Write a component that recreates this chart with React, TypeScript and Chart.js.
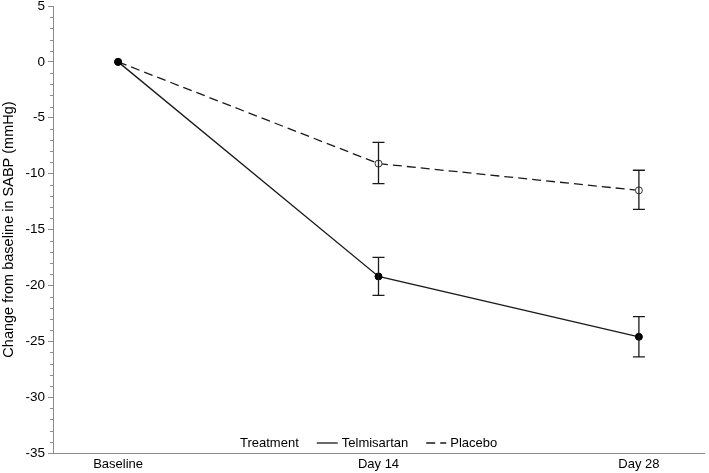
import React, { useEffect, useRef } from "react";
import { Chart, registerables } from "chart.js";

Chart.register(...registerables);

const categories = ["Baseline", "Day 14", "Day 28"];
const telmisartan = [0, -19.2, -24.6];
const telmisartanUpper = [0, -17.5, -22.8];
const telmisartanLower = [0, -20.9, -26.4];
const placebo = [0, -9.1, -11.5];
const placeboUpper = [0, -7.2, -9.7];
const placeboLower = [0, -10.9, -13.2];
const yMin = -35;
const yMax = 5;
const yMajorStep = 5;
const yMinorStep = 1;

const FONT = "'Liberation Sans', Arial, sans-serif";
const INK = "#1a1a1a";
const AXIS = "#8c8c8c";

const errorBarPlugin = {
  id: "errorBars",
  afterDatasetsDraw(chart: any) {
    const { ctx, scales } = chart;
    const xs = scales.x;
    const ys = scales.y;
    const sets = [
      { upper: telmisartanUpper, lower: telmisartanLower },
      { upper: placeboUpper, lower: placeboLower },
    ];
    ctx.save();
    ctx.strokeStyle = INK;
    ctx.lineWidth = 1.3;
    ctx.setLineDash([]);
    sets.forEach((s) => {
      categories.forEach((_, i) => {
        if (s.upper[i] === s.lower[i]) return;
        const x = xs.getPixelForValue(i);
        const yt = ys.getPixelForValue(s.upper[i]);
        const yb = ys.getPixelForValue(s.lower[i]);
        const cap = 6;
        ctx.beginPath();
        ctx.moveTo(x, yt);
        ctx.lineTo(x, yb);
        ctx.moveTo(x - cap, yt);
        ctx.lineTo(x + cap, yt);
        ctx.moveTo(x - cap, yb);
        ctx.lineTo(x + cap, yb);
        ctx.stroke();
      });
    });
    ctx.restore();
  },
};

const minorTickPlugin = {
  id: "minorTicks",
  afterDraw(chart: any) {
    const { ctx, scales } = chart;
    const ys = scales.y;
    ctx.save();
    ctx.strokeStyle = AXIS;
    ctx.lineWidth = 1;
    for (let v = yMin; v <= yMax; v += yMinorStep) {
      if (v % yMajorStep === 0) continue;
      const y = Math.round(ys.getPixelForValue(v)) + 0.5;
      ctx.beginPath();
      ctx.moveTo(ys.right - 3, y);
      ctx.lineTo(ys.right, y);
      ctx.stroke();
    }
    ctx.restore();
  },
};

const legendPlugin = {
  id: "customLegend",
  afterDraw(chart: any) {
    const { ctx, chartArea } = chart;
    const y = chartArea.bottom - 10;
    let x = chartArea.left + 187;
    ctx.save();
    ctx.font = `13px ${FONT}`;
    ctx.fillStyle = "#000";
    ctx.textBaseline = "middle";
    ctx.textAlign = "left";
    ctx.fillText("Treatment", x, y);
    x += ctx.measureText("Treatment").width + 18;
    ctx.strokeStyle = INK;
    ctx.lineWidth = 1.3;
    ctx.beginPath();
    ctx.setLineDash([]);
    ctx.moveTo(x, y);
    ctx.lineTo(x + 21, y);
    ctx.stroke();
    x += 25;
    ctx.fillText("Telmisartan", x, y);
    x += ctx.measureText("Telmisartan").width + 18;
    ctx.beginPath();
    ctx.setLineDash([9, 5]);
    ctx.moveTo(x, y);
    ctx.lineTo(x + 20, y);
    ctx.stroke();
    ctx.setLineDash([]);
    x += 24;
    ctx.fillText("Placebo", x, y);
    ctx.restore();
  },
};

export default function App() {
  const ref = useRef<HTMLCanvasElement | null>(null);

  useEffect(() => {
    if (!ref.current) return;
    const chart = new Chart(ref.current, {
      type: "line",
      data: {
        datasets: [
          {
            label: "Telmisartan",
            data: telmisartan.map((v, i) => ({ x: i, y: v })),
            borderColor: INK,
            borderWidth: 1.3,
            pointRadius: 3.5,
            pointBackgroundColor: "#000",
            pointBorderColor: "#000",
            pointBorderWidth: 1,
            fill: false,
            tension: 0,
          },
          {
            label: "Placebo",
            data: placebo.map((v, i) => ({ x: i, y: v })),
            borderColor: INK,
            borderWidth: 1.3,
            borderDash: [9, 5],
            pointRadius: 3.5,
            pointBackgroundColor: "#fff",
            pointBorderColor: "#333",
            pointBorderWidth: 1,
            fill: false,
            tension: 0,
          },
        ],
      },
      options: {
        animation: false,
        responsive: true,
        maintainAspectRatio: false,
        layout: { padding: { top: 6, right: 1, left: 0, bottom: 0 } },
        plugins: {
          legend: { display: false },
          tooltip: { enabled: false },
        },
        scales: {
          x: {
            type: "linear",
            min: -0.25,
            max: 2.25,
            afterBuildTicks: (scale: any) => {
              scale.ticks = categories.map((_, i) => ({ value: i }));
            },
            afterFit: (scale: any) => {
              scale.height = 20;
              scale.paddingLeft = 0;
              scale.paddingRight = 0;
            },
            ticks: {
              callback: (v: any) => categories[v] ?? "",
              color: "#000",
              font: { family: FONT, size: 13 },
              padding: 4,
              maxRotation: 0,
            },
            grid: { display: false, drawTicks: false },
            border: { display: true, color: AXIS, width: 1 },
          },
          y: {
            min: yMin,
            max: yMax,
            ticks: {
              stepSize: yMajorStep,
              color: "#000",
              font: { family: FONT, size: 13.5 },
              padding: 3,
            },
            afterFit: (scale: any) => {
              scale.width = 53;
              scale.paddingTop = 0;
              scale.paddingBottom = 0;
            },
            grid: {
              drawOnChartArea: false,
              drawTicks: true,
              tickLength: 5,
              tickColor: AXIS,
            },
            border: { display: true, color: AXIS, width: 1 },
            title: {
              display: true,
              text: "Change from baseline in SABP (mmHg)",
              color: "#000",
              font: { family: FONT, size: 14.5 },
              padding: { top: 0, bottom: 0 },
            },
          },
        },
      },
      plugins: [errorBarPlugin, minorTickPlugin, legendPlugin],
    } as any);
    return () => chart.destroy();
  }, []);

  return (
    <div style={{ position: "absolute", left: 0, top: 0, width: 709, height: 473, background: "#fff" }}>
      <canvas ref={ref} />
    </div>
  );
}
